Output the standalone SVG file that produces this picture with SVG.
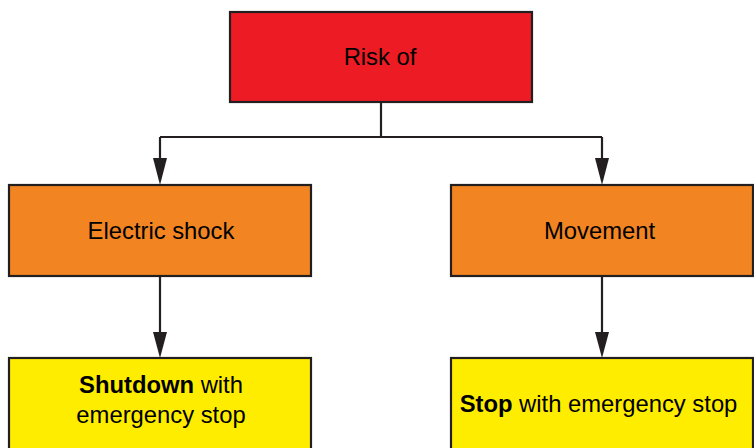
<svg xmlns="http://www.w3.org/2000/svg" width="754" height="448" viewBox="0 0 754 448">
<style>
.box{stroke:#231F20;stroke-width:2.2}
.red{fill:#ED1C24}
.orange{fill:#F28522}
.yellow{fill:#FFED00}
.t{font-family:"Liberation Sans",Arial,sans-serif;font-size:23.8px;fill:#000;text-anchor:middle}
.b{font-weight:bold}
.conn{fill:none;stroke:#231F20;stroke-width:2.2}
.head{fill:#231F20}
</style>
<g id="connectors">
<path class="conn" d="M381,102 V137"/>
<path class="conn" d="M160,137 H602"/>
<path class="conn" d="M160,137 V158"/>
<polygon class="head" points="153,158 167,158 160,185"/>
<path class="conn" d="M602,137 V158"/>
<polygon class="head" points="595,158 609,158 602,185"/>
<path class="conn" d="M160,276 V333"/>
<polygon class="head" points="153,332 167,332 160,358"/>
<path class="conn" d="M602,276 V333"/>
<polygon class="head" points="595,332 609,332 602,358"/>
</g>
<g id="risk">
<rect class="box red" x="230" y="12" width="302" height="90"/>
<text class="t" x="380" y="65">Risk of</text>
</g>
<g id="electric">
<rect class="box orange" x="9" y="185" width="302" height="91"/>
<text class="t" x="161" y="239">Electric shock</text>
</g>
<g id="movement">
<rect class="box orange" x="451" y="185" width="302" height="91"/>
<text class="t" x="599.5" y="239">Movement</text>
</g>
<g id="shutdown">
<rect class="box yellow" x="9" y="358" width="302" height="100"/>
<text class="t" x="161" y="393"><tspan class="b">Shutdown</tspan> with</text>
<text class="t" x="161" y="423">emergency stop</text>
</g>
<g id="stop">
<rect class="box yellow" x="451" y="358" width="302" height="100"/>
<text class="t" x="598.5" y="412"><tspan class="b">Stop</tspan> with emergency stop</text>
</g>
</svg>
